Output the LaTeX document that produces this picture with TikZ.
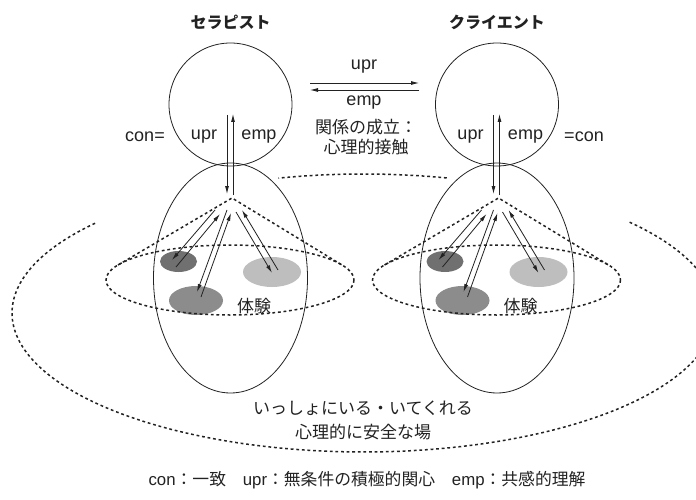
\documentclass[tikz,border=0pt]{standalone}
\usepackage{fontspec}
\setmainfont{Noto Sans CJK JP}
\newfontfamily\lat{Liberation Sans}
\usetikzlibrary{arrows.meta,shapes.geometric}
\definecolor{ink}{HTML}{222222}
\definecolor{gdark}{HTML}{707070}
\definecolor{gmid}{HTML}{8C8C8C}
\definecolor{glight}{HTML}{BEBEBE}
\tikzset{
  solidline/.style={draw=ink,line width=0.8pt},
  dashline/.style={draw=ink,line width=1.5pt,dash pattern=on 2.8pt off 2.8pt},
  arr/.style={draw=ink,line width=0.8pt,-{Latex[length=8pt,width=4pt]}},
  lbl/.style={text=ink,font=\fontsize{17}{20}\selectfont,inner sep=0pt},
  latl/.style={text=ink,font=\fontsize{18}{20}\selectfont\lat,inner sep=0pt},
  ttl/.style={text=ink,font=\fontsize{16}{19}\selectfont\bfseries,inner sep=0pt},
}
\begin{document}
\begin{tikzpicture}[x=1pt,y=-1pt]
\useasboundingbox (0,0) rectangle (696,500);
\fill[white] (0,0) rectangle (696,500);
% outer dashed ellipse (clipped by page)
\begin{scope}
\clip (0,0) rectangle (696,500);
\draw[dashline] plot[domain=139.8:400.8,samples=160] ({363.5+351.5*cos(\x)},{313-139*sin(\x)});
\draw[dashline] plot[domain=76.3:104,samples=40] ({363.5+351.5*cos(\x)},{313-139*sin(\x)});
\end{scope}
\foreach \s/\n in {0/L,266.5/R}{
\begin{scope}[xshift=\s pt]
  % head and body
  \node[solidline,circle,minimum size=123pt,inner sep=0pt] (\n head) at (230.5,104.5) {};
  \node[solidline,ellipse,minimum width=154pt,minimum height=230pt,inner sep=0pt] (\n body) at (230.5,278) {};
  % gray experiences
  \fill[gdark] (178.5,261.5) ellipse [x radius=18.5,y radius=10.5];
  \fill[gmid] (196,300.5) ellipse [x radius=27,y radius=14.5];
  \fill[glight] (272,272) ellipse [x radius=29,y radius=15];
  \node[lbl] (\n exp) at (254,306) {体験};
  % dashed cone and ellipse
  \coordinate (\n apex) at (232,198);
  \coordinate (\n tl) at (118,265);
  \coordinate (\n tr) at (342,265);
  \draw[dashline] (230,280) ellipse [x radius=124,y radius=35];
  \draw[dashline] (\n tl) -- (\n apex) -- (\n tr);
  % vertical arrows
  \coordinate (\n d1) at (227,115); \coordinate (\n d2) at (227,194);
  \coordinate (\n u1) at (233,195); \coordinate (\n u2) at (233,114);
  \draw[arr] (\n d1) -- (\n d2);
  \draw[arr] (\n u1) -- (\n u2);
  % arrow pairs
  \coordinate (\n a1) at (215,210); \coordinate (\n a2) at (172,260);
  \coordinate (\n a3) at (176,267); \coordinate (\n a4) at (220,214);
  \coordinate (\n b1) at (227,210); \coordinate (\n b2) at (197,292);
  \coordinate (\n b3) at (201,297); \coordinate (\n b4) at (231,213);
  \coordinate (\n c1) at (236,212); \coordinate (\n c2) at (272,273);
  \coordinate (\n c3) at (278,270); \coordinate (\n c4) at (242,210);
  \draw[arr] (\n a1) -- (\n a2); \draw[arr] (\n a3) -- (\n a4);
  \draw[arr] (\n b1) -- (\n b2); \draw[arr] (\n b3) -- (\n b4);
  \draw[arr] (\n c1) -- (\n c2); \draw[arr] (\n c3) -- (\n c4);
  % labels in head
  \node[latl] (\n upr) at (204,137) {upr};
  \node[latl] (\n emp) at (259,137) {emp};
\end{scope}
}
\node[ttl] (tth) at (230.5,22) {セラピスト};
\node[ttl] (tcl) at (497,22) {クライエント};
\node[latl] (conl) at (145,137) {con=};
\node[latl] (conr) at (584,137) {=con};
% horizontal arrows between heads
\coordinate (h1) at (310,83); \coordinate (h2) at (419,83);
\coordinate (h3) at (419,90); \coordinate (h4) at (310,90);
\draw[arr] (h1) -- (h2);
\draw[arr] (h3) -- (h4);
\node[latl] (hupr) at (364,67) {upr};
\node[latl] (hemp) at (364,103) {emp};
\node[lbl,align=center] (rel) at (366,137) {関係の成立：\\心理的接触};
\node[lbl,align=center] (safe) at (363,420.5) {いっしょにいる・いてくれる\\[4pt]心理的に安全な場};
\node[lbl,font=\fontsize{16.8}{19}\selectfont] (legend) at (367,480) {{\lat con}：一致\quad{\lat upr}：無条件の積極的関心\quad{\lat emp}：共感的理解};
\end{tikzpicture}
\end{document}
